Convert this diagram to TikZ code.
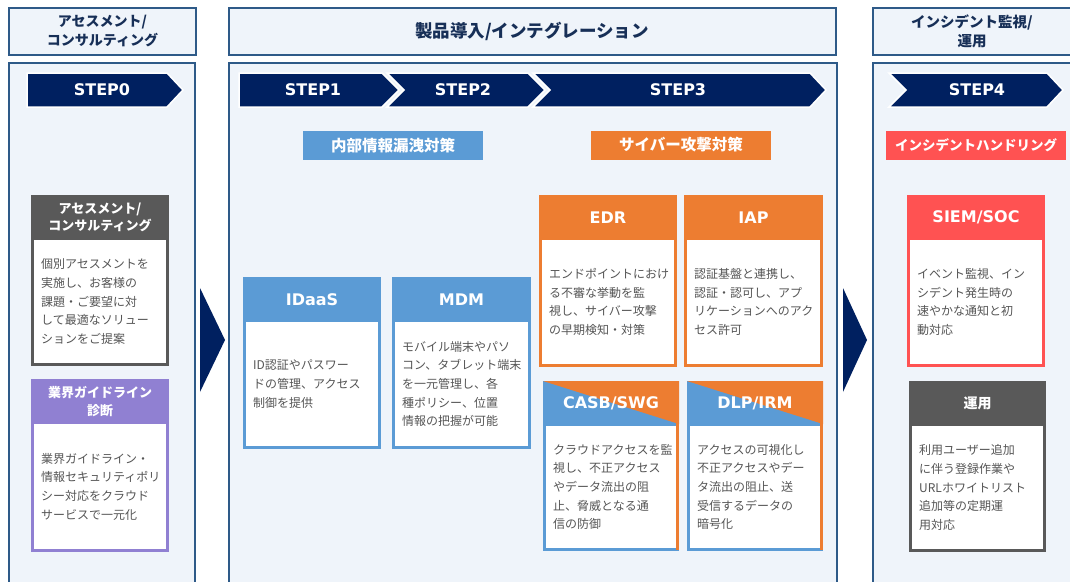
\documentclass[tikz,border=0pt]{standalone}
\usepackage{fontspec}
\usepackage{tikz}
\usetikzlibrary{calc}
\newfontfamily\jpfont{Noto Sans CJK JP}
\newfontfamily\latfont{DejaVu Sans}
\definecolor{navy}{HTML}{002060}
\definecolor{panelline}{HTML}{2E5A88}
\definecolor{panelfill}{HTML}{EFF4FA}
\definecolor{hdtext}{HTML}{172F57}
\definecolor{bodytext}{HTML}{555555}
\definecolor{cardblue}{HTML}{5B9BD5}
\definecolor{cardorange}{HTML}{ED7D31}
\definecolor{cardred}{HTML}{FF5252}
\definecolor{cardgray}{HTML}{595959}
\definecolor{cardpurple}{HTML}{9080D2}
\tikzset{
  panel/.style={draw=panelline, line width=1.8pt, fill=panelfill},
  stepshape/.style={fill=navy, draw=white, line width=1.5pt, line join=miter},
  steplabel/.style={text=white, font=\latfont\bfseries\fontsize{16}{18}\selectfont},
  headlabel/.style={text=hdtext, align=center, font=\jpfont\bfseries\fontsize{14}{19}\selectfont},
  catlabel/.style={text=white, minimum width=180, minimum height=29, inner sep=0,
    font=\jpfont\bfseries\fontsize{15.5}{17}\selectfont},
  cardtitle/.style={text=white, align=center, inner sep=0, font=\jpfont\bfseries\fontsize{13}{17.5}\selectfont},
  cardtext/.style={text=bodytext, align=left, anchor=west, inner sep=0,
    font=\jpfont\fontsize{12}{18.7}\selectfont}
}
\newcommand{\cardlat}[1]{{\latfont\fontsize{16}{18}\selectfont #1}}
% card: name, colour, x1, y1, x2, y2, title, text
\newcommand{\infocard}[8]{%
  \fill[#2] (#3,#4) rectangle (#5,#6);
  \fill[white] ({#3+3},{#4+45}) rectangle ({#5-3},{#6-3});
  \node[cardtitle] (#1) at ({(#3+#5)/2},{#4+22.5}) {#7};
  \node[cardtext] (#1-text) at ({#3+10},{(#4+#6+42)/2}) {#8};
}
% two coloured card: name, x1, y1, x2, y2, title, text
\newcommand{\splitcard}[7]{%
  \fill[cardblue] (#2,#3) rectangle (#4,#5);
  \fill[cardorange] (#2,#3) -- (#4,#3) -- (#4,{#3+43}) -- cycle;
  \fill[cardorange] ({#4-3},{#3+42}) rectangle (#4,{#5-1});
  \fill[white] ({#2+3},{#3+45}) rectangle ({#4-3},{#5-3});
  \node[cardtitle] (#1) at ({(#2+#4)/2},{#3+22.5}) {#6};
  \node[cardtext] (#1-text) at ({#2+10},{(#3+#5+42)/2}) {#7};
}

\begin{document}
\begin{tikzpicture}[x=1pt,y=-1pt]
\useasboundingbox (0,0) rectangle (1070,581);
\clip (0,0) rectangle (1070,581);
\fill[white] (0,0) rectangle (1070,581);

% top headers
\draw[panel] (9,8) rectangle (196,55);
\draw[panel] (229,8) rectangle (836,55);
\draw[panel] (873,8) rectangle (1072,55);
\node[headlabel] (hassess) at (102.5,31.5) {アセスメント/\\コンサルティング};
\node[headlabel, font=\jpfont\bfseries\fontsize{17.5}{20}\selectfont] (hintegr) at (532,31.5) {製品導入/インテグレーション};
\node[headlabel, font=\jpfont\bfseries\fontsize{14.5}{19}\selectfont] (hmonitor) at (972,31.5) {インシデント監視/\\運用};

% panels
\draw[panel] (9,63) rectangle (195,600);
\draw[panel] (229,63) rectangle (837,600);
\draw[panel] (873,63) rectangle (1072,600);

% steps
\filldraw[stepshape] (27,73) -- (167,73) -- (183,90) -- (167,107) -- (27,107) -- cycle;
\filldraw[stepshape] (239,73) -- (382,73) -- (399,90) -- (382,107) -- (239,107) -- cycle;
\filldraw[stepshape] (387,73) -- (528,73) -- (545,90) -- (528,107) -- (387,107) -- (404,90) -- cycle;
\filldraw[stepshape] (533,73) -- (810,73) -- (826,90) -- (810,107) -- (533,107) -- (550,90) -- cycle;
\filldraw[stepshape] (889,73) -- (1047,73) -- (1063,90) -- (1047,107) -- (889,107) -- (906,90) -- cycle;
\foreach \n/\x in {0/102,1/313,2/463,3/678,4/977}
  \node[steplabel] (step\n) at (\x,90) {STEP\n};

% category labels
\node[catlabel, fill=cardblue] (leak) at (393,145.5) {内部情報漏洩対策};
\node[catlabel, fill=cardorange] (cyber) at (681,145) {サイバー攻撃対策};
\node[catlabel, fill=cardred, font=\jpfont\bfseries\fontsize{13.5}{16}\selectfont] (incident) at (976,145.5) {インシデントハンドリング};

% arrows between panels
\fill[navy] (200,288) -- (225,340) -- (200,392) -- cycle;
\fill[navy] (843,288) -- (867,340) -- (843,392) -- cycle;

% cards
\infocard{assess}{cardgray}{31}{195}{169}{366}{アセスメント/\\コンサルティング}
  {個別アセスメントを\\実施し、お客様の\\課題・ご要望に対\\して最適なソリュー\\ションをご提案}
\infocard{guide}{cardpurple}{31}{379}{169}{552}{業界ガイドライン\\診断}
  {業界ガイドライン・\\情報セキュリティポリ\\シー対応をクラウド\\サービスで一元化}
\infocard{idaas}{cardblue}{243}{277}{381}{449}{\cardlat{IDaaS}}
  {ID認証やパスワー\\ドの管理、アクセス\\制御を提供}
\infocard{mdm}{cardblue}{392}{277}{531}{449}{\cardlat{MDM}}
  {モバイル端末やパソ\\コン、タブレット端末\\を一元管理し、各\\種ポリシー、位置\\情報の把握が可能}
\infocard{edr}{cardorange}{539}{195}{677}{367}{\cardlat{EDR}}
  {エンドポイントにおけ\\る不審な挙動を監\\視し、サイバー攻撃\\の早期検知・対策}
\infocard{iap}{cardorange}{684}{195}{823}{367}{\cardlat{IAP}}
  {認証基盤と連携し、\\認証・認可し、アプ\\リケーションへのアク\\セス許可}
\splitcard{casb}{543}{381}{679}{551}{\cardlat{CASB/SWG}}
  {クラウドアクセスを監\\視し、不正アクセス\\やデータ流出の阻\\止、脅威となる通\\信の防御}
\splitcard{dlp}{687}{381}{823}{551}{\cardlat{DLP/IRM}}
  {アクセスの可視化し\\不正アクセスやデー\\タ流出の阻止、送\\受信するデータの\\暗号化}
\infocard{siem}{cardred}{907}{195}{1045}{367}{\cardlat{SIEM/SOC}}
  {イベント監視、イン\\シデント発生時の\\速やかな通知と初\\動対応}
\infocard{ops}{cardgray}{909}{381}{1046}{552}{{\fontsize{14}{17}\selectfont 運用}}
  {利用ユーザー追加\\に伴う登録作業や\\URLホワイトリスト\\追加等の定期運\\用対応}
\end{tikzpicture}
\end{document}
